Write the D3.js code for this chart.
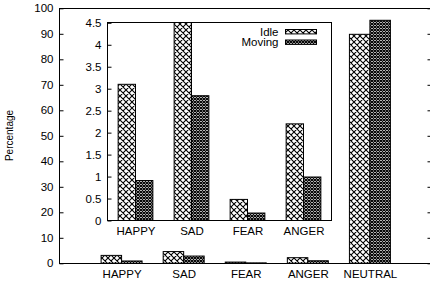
<!DOCTYPE html>
<html><head><meta charset="utf-8">
<script src="https://cdn.jsdelivr.net/npm/d3@7"></script>
<style>body{margin:0;background:#fff}svg{display:block;font-family:"Liberation Sans",Arial,sans-serif}</style>
</head><body><svg id="c" width="430" height="284"></svg>
<script>
const categories = ["HAPPY","SAD","FEAR","ANGER","NEUTRAL"];
const idle = [3.1, 4.6, 0.48, 2.2, 89.8];
const moving = [0.91, 2.84, 0.17, 0.99, 95.3];
const seriesNames = ["Idle","Moving"];
const mainTicks = [0,10,20,30,40,50,60,70,80,90,100];
const insetTicks = [0,0.5,1,1.5,2,2.5,3,3.5,4,4.5];
const insetCats = categories.slice(0,4);

const svg = d3.select("#c");
const defs = svg.append("defs");
function pat(id, p, sw){
  const g = defs.append("pattern").attr("id",id).attr("patternUnits","userSpaceOnUse")
    .attr("width",p).attr("height",p);
  g.append("rect").attr("width",p).attr("height",p).attr("fill","#fff");
  g.append("path").attr("d",`M0,0L${p},${p}M0,${p}L${p},0M${-p/2},${p/2}L${p/2},${-p/2}`)
    .attr("stroke","#000").attr("stroke-width",sw).attr("fill","none");
}
pat("pIdle",6,1.1);
pat("pMov",3,1.2);
const fills = ["url(#pIdle)","url(#pMov)"];

// main plot
const x = d3.scaleLinear().domain([0,6]).range([59.5,432]);
const y = d3.scaleLinear().domain([0,100]).range([263.3,8.3]);
const bw = 0.33;
const main = svg.append("g");
categories.forEach((c,i)=>{
  [idle[i],moving[i]].forEach((v,s)=>{
    const x0 = x(i+1 - bw + s*bw), x1 = x(i+1 + s*bw);
    main.append("rect").attr("x",x0).attr("y",y(v)).attr("width",x1-x0).attr("height",y(0)-y(v))
      .attr("fill",fills[s]).attr("stroke","#000").attr("stroke-width",1);
  });
});
// frame
main.append("rect").attr("x",59.5).attr("y",8.5).attr("width",432-59.5).attr("height",263.5-8.5)
  .attr("fill","none").attr("stroke","#000").attr("stroke-width",1);
const yAxis = d3.axisLeft(y).tickValues(mainTicks).tickSize(-4).tickPadding(6);
const gy = main.append("g").attr("transform","translate(59.5,0)").call(yAxis);
const gyr = main.append("g").attr("transform","translate(431.5,0)").call(d3.axisRight(y).tickValues(mainTicks).tickSize(-4).tickFormat(""));
const xAxis = d3.axisBottom(x).tickValues(d3.range(1,6)).tickFormat((d)=>categories[d-1]).tickSize(0).tickPadding(6);
const gx = main.append("g").attr("transform","translate(0,263.5)").call(xAxis);
[gy,gyr,gx].forEach(g=>{g.select(".domain").remove(); g.selectAll("line").attr("stroke","#000");
  g.selectAll("text").attr("font-size","11.5px").attr("font-family","Liberation Sans, Arial, sans-serif").attr("fill","#000");});

// inset
const xi = d3.scaleLinear().domain([0.5,4.5]).range([107.5,331.5]);
const yi = d3.scaleLinear().domain([0,4.5]).range([220.5,22.8]);
const bwi = 0.31;
const inset = svg.append("g");
inset.append("rect").attr("x",107.5).attr("y",22.5).attr("width",224).attr("height",198)
  .attr("fill","#fff");
const clip = defs.append("clipPath").attr("id","ic");
clip.append("rect").attr("x",107.5).attr("y",22.5).attr("width",224).attr("height",198.5);
const ib = inset.append("g").attr("clip-path","url(#ic)");
insetCats.forEach((c,i)=>{
  [idle[i],moving[i]].forEach((v,s)=>{
    const x0 = xi(i+1 - bwi + s*bwi), x1 = xi(i+1 + s*bwi);
    const vt = Math.min(v,4.6);
    ib.append("rect").attr("x",x0).attr("y",yi(vt)).attr("width",x1-x0).attr("height",yi(0)-yi(vt))
      .attr("fill",fills[s]).attr("stroke","#000").attr("stroke-width",1);
  });
});
inset.append("rect").attr("x",107.5).attr("y",22.5).attr("width",224).attr("height",198)
  .attr("fill","none").attr("stroke","#000").attr("stroke-width",1);
const giy = inset.append("g").attr("transform","translate(107.5,0)")
  .call(d3.axisLeft(yi).tickValues(insetTicks).tickSize(-4).tickPadding(6).tickFormat(d=>String(d)));
const gix = inset.append("g").attr("transform","translate(0,220.5)")
  .call(d3.axisBottom(xi).tickValues(d3.range(1,5)).tickFormat(d=>insetCats[d-1]).tickSize(0).tickPadding(6));
[giy,gix].forEach(g=>{g.select(".domain").remove(); g.selectAll("line").attr("stroke","#000");
  g.selectAll("text").attr("font-size","11.5px").attr("font-family","Liberation Sans, Arial, sans-serif").attr("fill","#000");});

// legend
const leg = inset.append("g");
seriesNames.forEach((n,s)=>{
  const cy = s===0 ? 31.7 : 42.2;
  leg.append("text").attr("x",278.5).attr("y",cy).attr("dy","0.35em").attr("text-anchor","end")
    .attr("font-size","11.5px").text(n);
  leg.append("rect").attr("x",285.5).attr("y",cy-2.2).attr("width",31).attr("height",4.4)
    .attr("fill",fills[s]).attr("stroke","#000").attr("stroke-width",1);
});

// y title
svg.append("text").attr("transform","translate(13,135.5) rotate(-90)").attr("text-anchor","middle")
  .attr("font-size","10px").text("Percentage");
</script></body></html>
